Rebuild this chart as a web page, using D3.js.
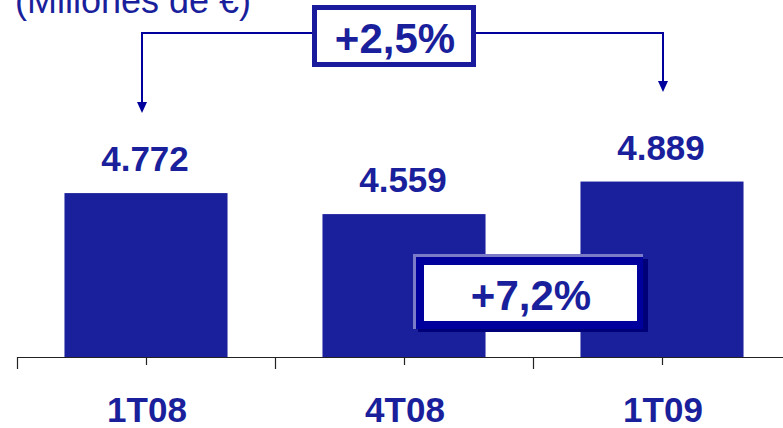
<!DOCTYPE html>
<html><head><meta charset="utf-8">
<script src="https://cdn.jsdelivr.net/npm/d3@7"></script>
<style>html,body{margin:0;padding:0;background:#fff;overflow:hidden}</style>
</head><body>
<script>
const categories = ["1T08", "4T08", "1T09"];
const values = [4772, 4559, 4889];
const valueLabels = ["4.772", "4.559", "4.889"];
const title = "(Millones de €)";
const growthTop = "+2,5%";
const growthBottom = "+7,2%";

const W = 783, H = 428;
const blue = "#1a1f9c", navy = "#00009c";
const font = "Arial, 'Liberation Sans', sans-serif";

const svg = d3.select("body").append("svg").attr("width", W).attr("height", H);

const x = d3.scaleBand().domain(categories).range([17, 791]).padding(0);
const y = d3.scaleLinear().domain([3110, 5138]).range([357, 157]);
const barW = x.bandwidth() * 0.632;
const cx = c => x(c) + x.bandwidth() / 2;

// title
svg.append("text").attr("x", 15).attr("y", 13).attr("font-family", font)
  .attr("font-size", 36).attr("fill", blue).text(title);

// bars
svg.selectAll("rect.bar").data(categories).join("rect").attr("class", "bar")
  .attr("x", c => cx(c) - barW / 2).attr("width", barW)
  .attr("y", (c, i) => y(values[i])).attr("height", (c, i) => y.range()[0] - y(values[i]))
  .attr("fill", blue);

// value labels
svg.selectAll("text.val").data(categories).join("text").attr("class", "val")
  .attr("x", c => cx(c) - 1).attr("y", (c, i) => y(values[i]) - 22)
  .attr("text-anchor", "middle").attr("font-family", font).attr("font-weight", "bold")
  .attr("font-size", 35).attr("fill", blue).text((c, i) => valueLabels[i]);

// axis
const ax = svg.append("g").attr("stroke", "#222").attr("stroke-width", 1.2);
ax.append("line").attr("x1", 17).attr("x2", W).attr("y1", 357.5).attr("y2", 357.5);
const bounds = categories.map(c => x(c)).concat([x.range()[1]]);
ax.selectAll("line.lt").data(bounds).join("line").attr("class", "lt")
  .attr("x1", d => d + 0.5).attr("x2", d => d + 0.5).attr("y1", 357).attr("y2", 369);
ax.selectAll("line.st").data(categories).join("line").attr("class", "st")
  .attr("x1", c => cx(c) + 0.5).attr("x2", c => cx(c) + 0.5).attr("y1", 357).attr("y2", 365);

// category labels
svg.selectAll("text.cat").data(categories).join("text").attr("class", "cat")
  .attr("x", c => cx(c) + 1).attr("y", 422).attr("text-anchor", "middle")
  .attr("font-family", font).attr("font-weight", "bold").attr("font-size", 35)
  .attr("fill", blue).text(c => c);

// top bracket with arrows
const xl = cx(categories[0]) - 4, xr = cx(categories[2]) + 1;
const lineY = 33;
const g = svg.append("g");
g.append("path").attr("d", `M${xl},${lineY + 70} L${xl},${lineY} L${xr},${lineY} L${xr},${lineY + 49}`)
  .attr("fill", "none").attr("stroke", navy).attr("stroke-width", 2);
function arrow(px, tip) {
  g.append("path").attr("d", `M${px - 5},${tip - 11} L${px + 5},${tip - 11} L${px},${tip} Z`).attr("fill", navy);
}
arrow(xl, 113);
arrow(xr, 92);

// top box
g.append("rect").attr("x", 314.5).attr("y", 7.5).attr("width", 159).attr("height", 57)
  .attr("fill", "#fff").attr("stroke", "#1a1a9c").attr("stroke-width", 5);
g.append("text").attr("x", 395).attr("y", 53).attr("text-anchor", "middle")
  .attr("font-family", font).attr("font-weight", "bold").attr("font-size", 42)
  .attr("fill", blue).text(growthTop);

// bottom box
const b = svg.append("g");
b.append("rect").attr("x", 418).attr("y", 259).attr("width", 230).attr("height", 73).attr("fill", "#000078");
b.append("rect").attr("x", 413).attr("y", 254).attr("width", 230).attr("height", 75).attr("fill", "#7b7bc8");
b.append("rect").attr("x", 416).attr("y", 257).attr("width", 227).attr("height", 72).attr("fill", navy);
b.append("rect").attr("x", 424).attr("y", 265).attr("width", 213).attr("height", 56).attr("fill", "#fff");
b.append("text").attr("x", 531).attr("y", 310).attr("text-anchor", "middle")
  .attr("font-family", font).attr("font-weight", "bold").attr("font-size", 42)
  .attr("fill", blue).text(growthBottom);
</script>
</body></html>
